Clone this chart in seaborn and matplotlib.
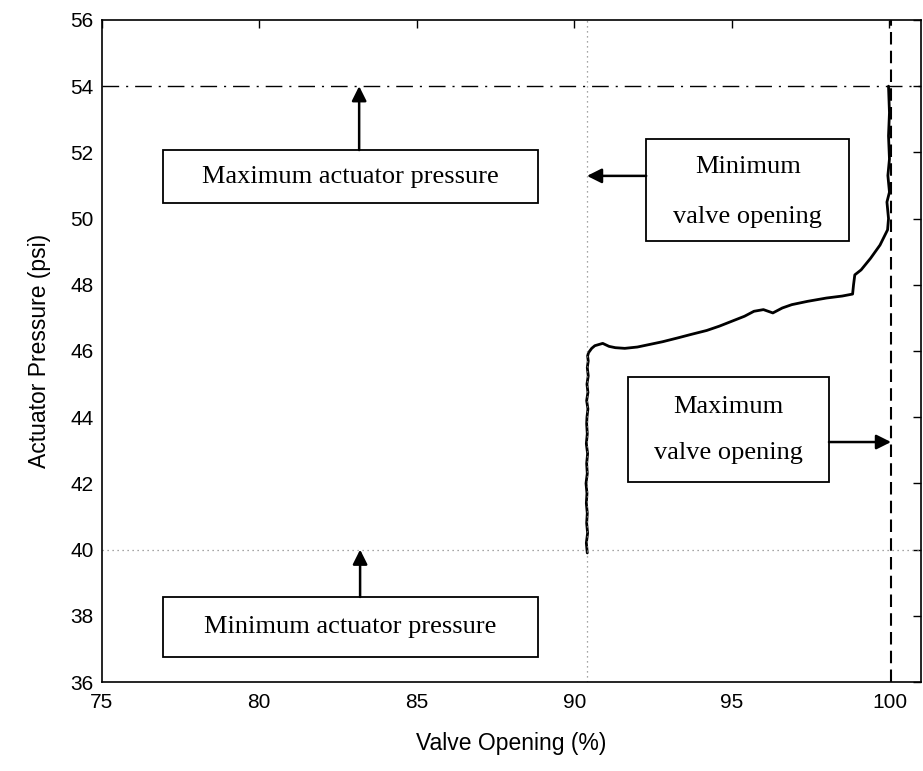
import matplotlib
matplotlib.use("Agg")
import matplotlib.pyplot as plt
from matplotlib.patches import Rectangle
import seaborn as sns
import pandas as pd

# ---- data ----
curve_x = [90.41, 90.38, 90.42, 90.39, 90.41, 90.38, 90.40, 90.37, 90.41, 90.39,
           90.42, 90.38, 90.41, 90.39, 90.40,
           90.43, 90.39, 90.43, 90.40, 90.44, 90.41, 90.44, 90.42, 90.45,
           90.55, 90.65, 90.9, 91.1, 91.3, 91.6, 92.0, 92.4, 92.8, 93.3, 93.7,
           94.2, 94.6, 95.0, 95.4, 95.7, 96.0, 96.3, 96.6, 96.9, 97.4, 98.0,
           98.5, 98.83, 98.86, 98.9, 99.1, 99.4, 99.7, 99.94, 99.97, 99.92,
           100.0, 99.95, 100.0, 99.97, 100.0, 99.97]
curve_y = [39.9, 40.2, 40.5, 40.8, 41.1, 41.4, 41.7, 42.0, 42.3, 42.6,
           42.9, 43.2, 43.5, 43.8, 44.0,
           44.25, 44.5, 44.75, 45.0, 45.25, 45.5, 45.7, 45.85, 45.95,
           46.08, 46.16, 46.23, 46.14, 46.1, 46.08, 46.12, 46.2, 46.28, 46.4, 46.5,
           46.62, 46.75, 46.9, 47.05, 47.2, 47.25, 47.15, 47.3, 47.4, 47.5, 47.6,
           47.66, 47.72, 48.0, 48.3, 48.45, 48.8, 49.2, 49.66, 50.0, 50.5,
           50.8, 51.3, 51.8, 52.5, 53.2, 54.0]

max_pressure = 54
min_pressure = 40
min_opening = 90.4
max_opening = 100.05

x_ticks = [75, 80, 85, 90, 95, 100]
y_ticks = [36, 38, 40, 42, 44, 46, 48, 50, 52, 54, 56]

x_label = "Valve Opening (%)"
y_label = "Actuator Pressure (psi)"

# ---- figure ----
sns.set_theme(style="white")
plt.rcParams["font.family"] = ["Liberation Sans", "DejaVu Sans"]
plt.rcParams["text.color"] = "black"
plt.rcParams["axes.labelcolor"] = "black"

fig = plt.figure(figsize=(9.23, 7.71), dpi=100)
ax = fig.add_axes([0.1102, 0.1154, 0.9978 - 0.1102, 0.9741 - 0.1154])

df = pd.DataFrame({"x": curve_x, "y": curve_y})
sns.lineplot(data=df, x="x", y="y", sort=False, estimator=None,
             color="black", lw=2.0, ax=ax)

# reference lines
ax.axhline(max_pressure, color="black", lw=1.0, dashes=(12, 5, 1.5, 5))
ax.axhline(min_pressure, color="#888888", lw=0.9, ls=(0, (1, 3)))
ax.axvline(min_opening, color="#888888", lw=0.9, ls=(0, (1, 3)))
ax.axvline(max_opening, color="black", lw=1.5, dashes=(6, 3))

ax.set_xlim(75, 101)
ax.set_ylim(36, 56)
ax.set_xticks(x_ticks)
ax.set_yticks(y_ticks)
ax.tick_params(direction="in", length=6, width=1, top=True, right=True,
               labelsize=15, colors="black")
ax.tick_params(axis="x", pad=8)
ax.tick_params(axis="y", pad=6)
for s in ax.spines.values():
    s.set_color("black")
    s.set_linewidth(1.2)
    s.set_visible(True)

ax.set_xlabel(x_label, fontsize=16.5, labelpad=14, color="black")
ax.set_ylabel(y_label, fontsize=16.5, labelpad=14, color="black")

# ---- annotation boxes ----
serif = ["Liberation Serif", "DejaVu Serif"]
box_fs = 19

def box(x0, x1, y0, y1):
    ax.add_patch(Rectangle((x0, y0), x1 - x0, y1 - y0, fill=True, facecolor="white",
                           edgecolor="black", lw=1.3, zorder=5))

arrow = dict(arrowstyle="-|>", color="black", lw=1.8, mutation_scale=22,
             shrinkA=0, shrinkB=0)

# Maximum actuator pressure
box(76.95, 88.85, 50.47, 52.07)
ax.text(82.9, 51.27, "Maximum actuator pressure", ha="center", va="center",
        fontsize=box_fs, family=serif, color="black", zorder=6)
ax.annotate("", xy=(83.17, max_pressure), xytext=(83.17, 52.07), arrowprops=arrow, zorder=6)

# Minimum actuator pressure
box(76.95, 88.85, 36.76, 38.57)
ax.text(82.9, 37.67, "Minimum actuator pressure", ha="center", va="center",
        fontsize=box_fs, family=serif, color="black", zorder=6)
ax.annotate("", xy=(83.2, min_pressure), xytext=(83.2, 38.57), arrowprops=arrow, zorder=6)

# Minimum valve opening
box(92.28, 98.72, 49.32, 52.40)
ax.text(95.5, 51.56, "Minimum", ha="center", va="center", fontsize=box_fs,
        family=serif, color="black", zorder=6)
ax.text(95.5, 50.05, "valve opening", ha="center", va="center", fontsize=box_fs,
        family=serif, color="black", zorder=6)
ax.annotate("", xy=(min_opening, 51.29), xytext=(92.28, 51.29), arrowprops=arrow, zorder=6)

# Maximum valve opening
box(91.7, 98.08, 42.04, 45.21)
ax.text(94.89, 44.31, "Maximum", ha="center", va="center", fontsize=box_fs,
        family=serif, color="black", zorder=6)
ax.text(94.89, 42.92, "valve opening", ha="center", va="center", fontsize=box_fs,
        family=serif, color="black", zorder=6)
ax.annotate("", xy=(max_opening, 43.25), xytext=(98.08, 43.25), arrowprops=arrow, zorder=6)

fig.savefig("out.png", dpi=100, facecolor="white")
